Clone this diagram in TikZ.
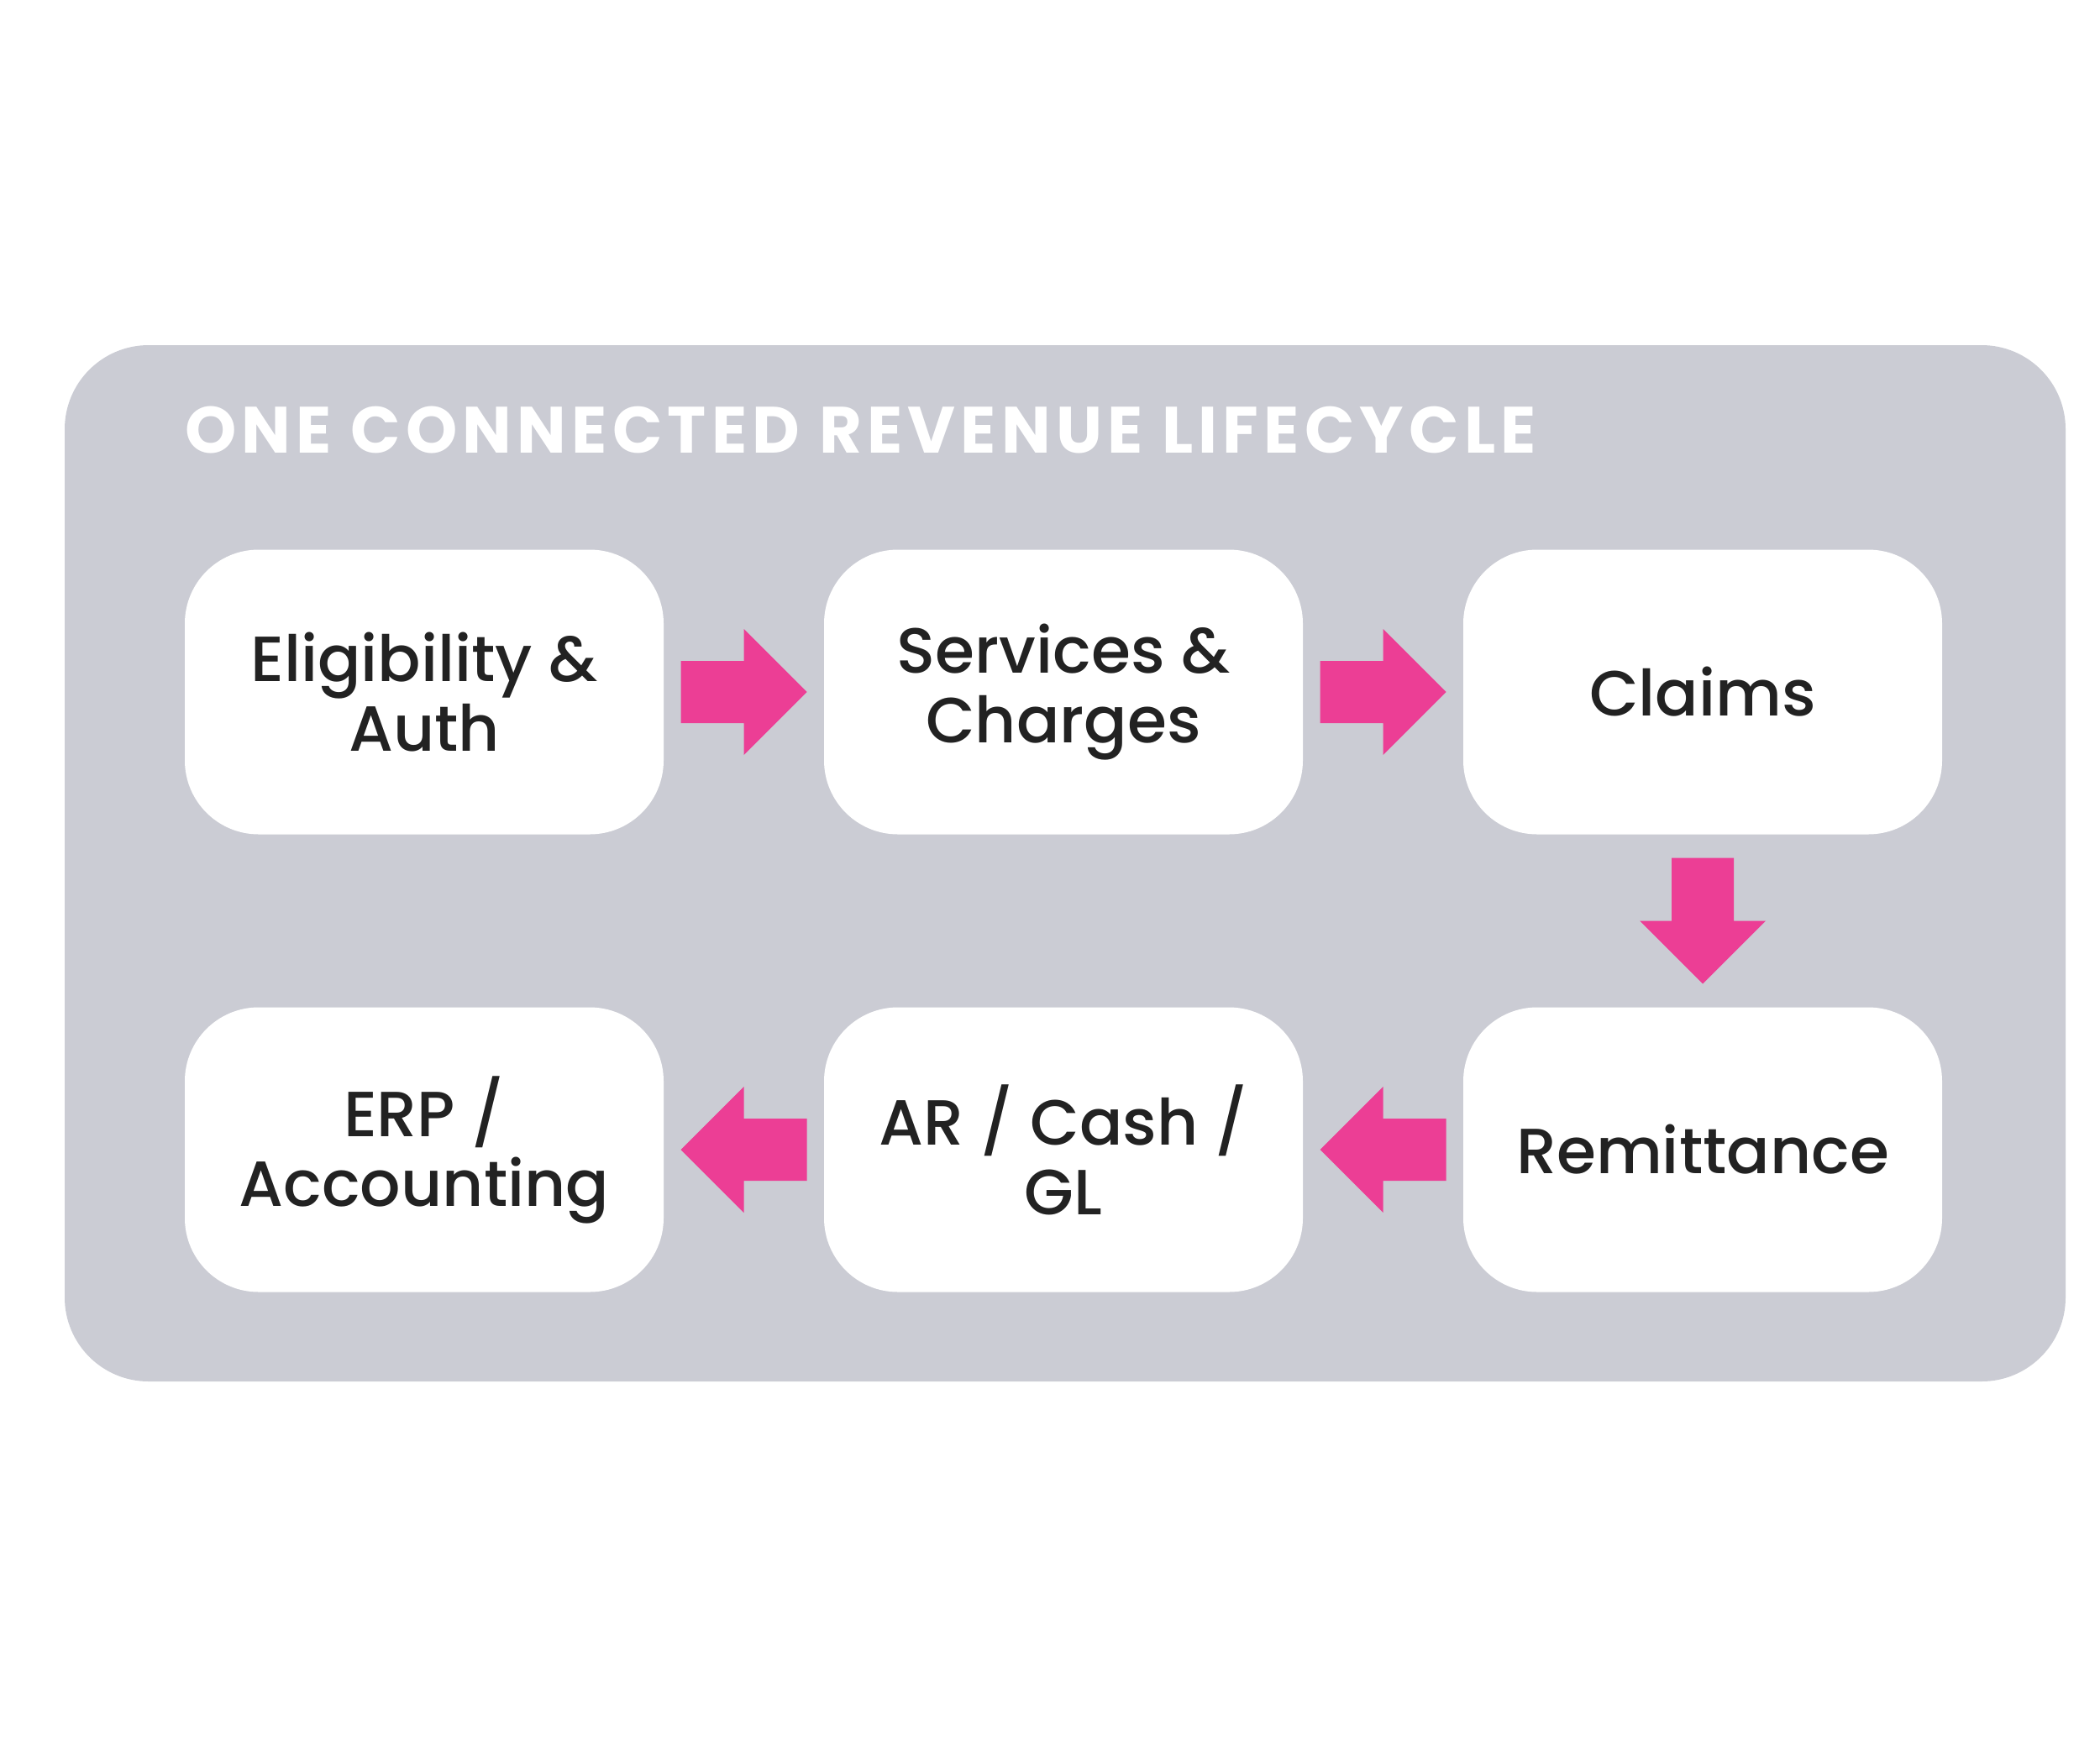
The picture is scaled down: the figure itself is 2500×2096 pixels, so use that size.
\documentclass[tikz,border=0pt]{standalone}
\usepackage{fontspec}
\setmainfont{Poppins}
\newfontfamily\headfont{Poppins}[LetterSpace=8]
\newfontfamily\stagefont{Poppins Medium}
\usetikzlibrary{positioning,calc}

\definecolor{panelgray}{HTML}{CBCCD4}
\definecolor{flowpink}{HTML}{EC3E95}
\definecolor{inkdark}{HTML}{222222}

\tikzset{
  stage/.style={fill=white, rounded corners=88pt, minimum width=570pt,
    minimum height=339pt, align=center, text=inkdark,
    font=\stagefont\fontsize{76}{83}\selectfont},
  blockarrow/.pic={
    \fill[flowpink] (-75,-37) -- (0,-37) -- (0,-75) -- (75,0)
      -- (0,75) -- (0,37) -- (-75,37) -- cycle;
  }
}

\begin{document}
\begin{tikzpicture}[x=1pt,y=-1pt,node distance=545pt and 761pt,on grid]
  \useasboundingbox (0,0) rectangle (2500,2096);
  % panel
  \fill[panelgray, rounded corners=100pt] (77,411) rectangle (2459,1645);
  \node[anchor=base west, inner sep=0pt, text=white,
        font=\headfont\bfseries\fontsize{78}{80}\selectfont] (title) at (220,539)
        {ONE CONNECTED REVENUE LIFECYCLE};
  % stages
  \node[stage] (elig) at (505,824) {Eligibility \&\\Auth};
  \node[stage] (serv) [right=of elig] {Services \&\\Charges};
  \node[stage] (claims) [right=of serv] {Claims};
  \node[stage] (remit) [below=of claims] {Remittance};
  \node[stage] (ar) [left=of remit] {AR / Cash /\\GL};
  \node[stage] (erp) [left=of ar] {ERP /\\Accounting};
  % arrows
  \pic at ($(elig.east)!0.5!(serv.west)$) {blockarrow};
  \pic at ($(serv.east)!0.5!(claims.west)$) {blockarrow};
  \pic[rotate=-90] at ($(claims.south)!0.5!(remit.north)$) {blockarrow};
  \pic[rotate=180] at ($(remit.west)!0.5!(ar.east)$) {blockarrow};
  \pic[rotate=180] at ($(ar.west)!0.5!(erp.east)$) {blockarrow};
\end{tikzpicture}
\end{document}
